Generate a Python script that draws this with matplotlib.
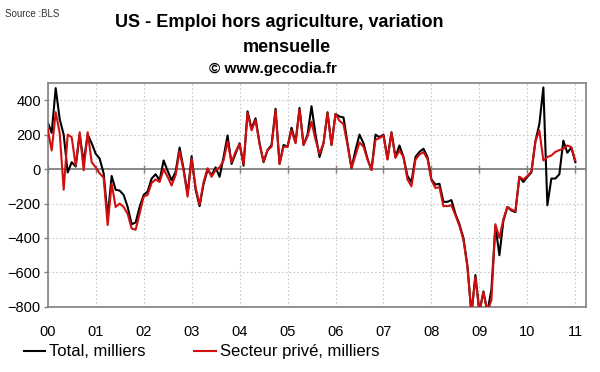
import numpy as np
import matplotlib.pyplot as plt

plt.rcParams['font.family'] = ['Liberation Sans', 'DejaVu Sans']

# monthly change, thousands, Jan 2000 .. Jan 2011
total = [272, 210, 470, 290, 200, -20, 40, 15, 200, 40, 200, 150,
         90, 60, -25, -280, -40, -120, -125, -150, -220, -320, -310, -220,
         -150, -130, -55, -30, -65, 50, -10, -65, -15, 125, 0, -145,
         75, -120, -215, -85, -5, -35, 10, -45, 70, 195, 30, 90,
         150, 20, 335, 235, 295, 150, 40, 110, 140, 350, 30, 140,
         130, 240, 155, 355, 140, 200, 365, 200, 70, 150, 330, 140,
         320, 305, 300, 150, 5, 110, 200, 150, 60, -5, 200, 185,
         200, 60, 214, 70, 137, 70, -40, -75, 70, 100, 118, 70,
         -60, -90, -85, -190, -190, -180, -260, -320, -400, -560, -840, -615,
         -830, -710, -830, -700, -330, -500, -300, -220, -240, -250, -45, -75,
         -45, -20, 160, 262, 474, -210, -55, -55, -30, 165, 95, 125,
         40]
private = [233, 108, 330, 210, -120, 200, 185, 20, 214, -7, 214, 40,
           10, -25, -50, -325, -85, -220, -200, -220, -260, -345, -352, -258,
           -160, -150, -80, -60, -75, 0, -45, -95, -35, 105, -10, -160,
           60, -105, -205, -75, 5, -45, -5, 10, 50, 160, 40, 100,
           145, 30, 325, 225, 285, 145, 45, 110, 130, 340, 30, 130,
           130, 225, 150, 345, 140, 190, 275, 170, 90, 150, 325, 140,
           320, 280, 260, 140, 5, 80, 155, 130, 55, -5, 170, 180,
           195, 55, 210, 65, 108, 70, -60, -100, 55, 85, 98, 60,
           -65, -110, -105, -215, -215, -210, -268, -330, -410, -570, -840, -630,
           -830, -715, -830, -760, -320, -400, -290, -220, -235, -245, -45, -60,
           -40, -15, 160, 224, 50, 70, 79, 100, 110, 118, 137, 127,
           50]
year_labels = ['00', '01', '02', '03', '04', '05', '06', '07', '08', '09', '10', '11']

x = np.arange(len(total)) / 12.0
years = np.arange(len(year_labels))

fig = plt.figure(figsize=(6, 3.72), dpi=100)
ax = fig.add_axes([0.0795, 0.175, 0.897, 0.602])

# zero line with small year ticks
ax.axhline(0, color='#808080', lw=1.3, zorder=1.5)
ax.plot(years, np.zeros(len(years)), linestyle='none', marker='|', ms=6, mew=1,
        color='#808080', zorder=1.6)

ax.plot(x, total, color='black', lw=1.5, solid_joinstyle='round', label='Total, milliers', zorder=2)
ax.plot(x, private, color='#d01010', lw=1.5, solid_joinstyle='round', label='Secteur privé, milliers', zorder=3)

ax.set_xlim(0, 11.22)
ax.set_ylim(-800, 500)
ax.set_yticks(range(-800, 401, 200))
ax.set_xticks(years)
ax.set_xticklabels(year_labels)
ax.tick_params(axis='x', length=0, pad=13, labelsize=10.5)
ax.tick_params(axis='y', length=3, width=1, color='#808080', pad=2, labelsize=10.5)
ax.grid(True, color='#c8c8c8', linestyle=(0, (1.5, 2)), lw=0.8)
ax.set_axisbelow(True)
for s in ax.spines.values():
    s.set_color('#808080')
    s.set_linewidth(1.2)

fig.text(0.008, 0.975, 'Source :BLS', fontsize=7, color='#333333', va='top')
fig.text(0.465, 0.94, 'US - Emploi hors agriculture, variation', fontsize=13, weight='bold', ha='center', va='center')
fig.text(0.478, 0.873, 'mensuelle', fontsize=13, weight='bold', ha='center', va='center')
fig.text(0.455, 0.815, '© www.gecodia.fr', fontsize=11, weight='bold', ha='center', va='center')

fig.legend(loc='center', bbox_to_anchor=(0.336, 0.054), ncol=2, frameon=False,
           fontsize=12, handlelength=1.3, handletextpad=0.25, columnspacing=2.9)

fig.savefig('out.png', dpi=100)
